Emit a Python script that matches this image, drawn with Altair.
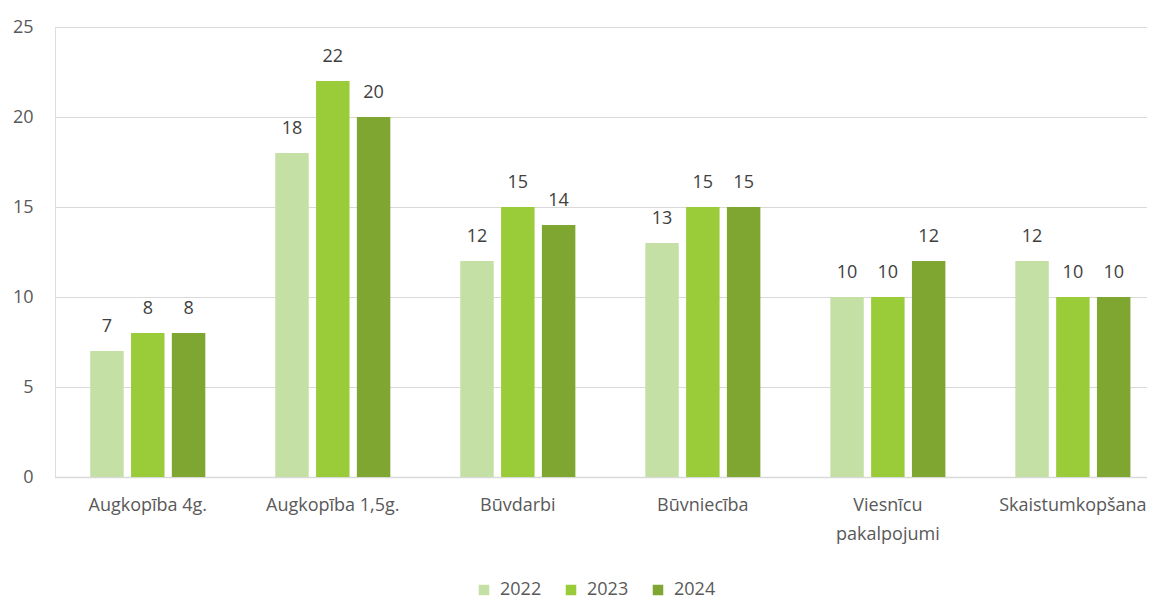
import altair as alt
import pandas as pd

categories = ["Augkopība 4g.", "Augkopība 1,5g.", "Būvdarbi", "Būvniecība",
              "Viesnīcu pakalpojumi", "Skaistumkopšana"]
years = ["2022", "2023", "2024"]
v2022 = [7, 18, 12, 13, 10, 12]
v2023 = [8, 22, 15, 15, 10, 10]
v2024 = [8, 20, 14, 15, 12, 10]
colors = ["#C5E0A4", "#9ACB38", "#7EA630"]

rows = []
for i, c in enumerate(categories):
    for y, vals in zip(years, [v2022, v2023, v2024]):
        rows.append({"cat": c, "year": y, "value": vals[i]})
df = pd.DataFrame(rows)

FONT = "Open Sans"

x = alt.X("cat:N", sort=categories, title=None,
          scale=alt.Scale(paddingInner=0.378, paddingOuter=0.14, align=0.68),
          axis=alt.Axis(labelAngle=0, ticks=False, domainColor="#D9D9D9", domainWidth=1.5,
                        labelFont=FONT, labelFontSize=18, labelColor="#595959",
                        labelPadding=19, labelLineHeight=29,
                        labelExpr="datum.label == 'Viesnīcu pakalpojumi' ? ['Viesnīcu', 'pakalpojumi'] : datum.label"))
xo = alt.XOffset("year:N", sort=years, scale=alt.Scale(paddingInner=0.18, paddingOuter=0))
yenc = alt.Y("value:Q", title=None,
             scale=alt.Scale(domain=[0, 25], nice=False),
             axis=alt.Axis(values=[0, 5, 10, 15, 20, 25], ticks=False, domain=False,
                           gridColor="#D9D9D9", gridWidth=1.2,
                           labelFont=FONT, labelFontSize=18, labelColor="#595959",
                           labelPadding=22))
color = alt.Color("year:N", sort=years, title=None,
                  scale=alt.Scale(domain=years, range=colors),
                  legend=alt.Legend(orient="none", direction="horizontal",
                                    legendX=420, legendY=554,
                                    symbolType="square", symbolSize=110,
                                    symbolStrokeWidth=0,
                                    labelFont=FONT, labelFontSize=18, labelColor="#595959",
                                    columnPadding=20, labelOffset=7))

base = alt.Chart(df)
bars = base.mark_bar().encode(x=x, xOffset=xo, y=yenc, color=color)
labels = base.mark_text(baseline="alphabetic", dy=-19, font=FONT, fontSize=18,
                        color="#404040").encode(x=x, xOffset=xo, y=yenc, text="value:Q")

chart = alt.layer(bars, labels).properties(
    width=1092, height=450,
    autosize=alt.AutoSizeParams(type="none"),
    padding={"left": 47, "top": 19, "right": 0, "bottom": 123},
).configure_view(stroke=None).configure(background="white")

chart.save("out.html", embed_options={"renderer": "svg", "actions": False})
